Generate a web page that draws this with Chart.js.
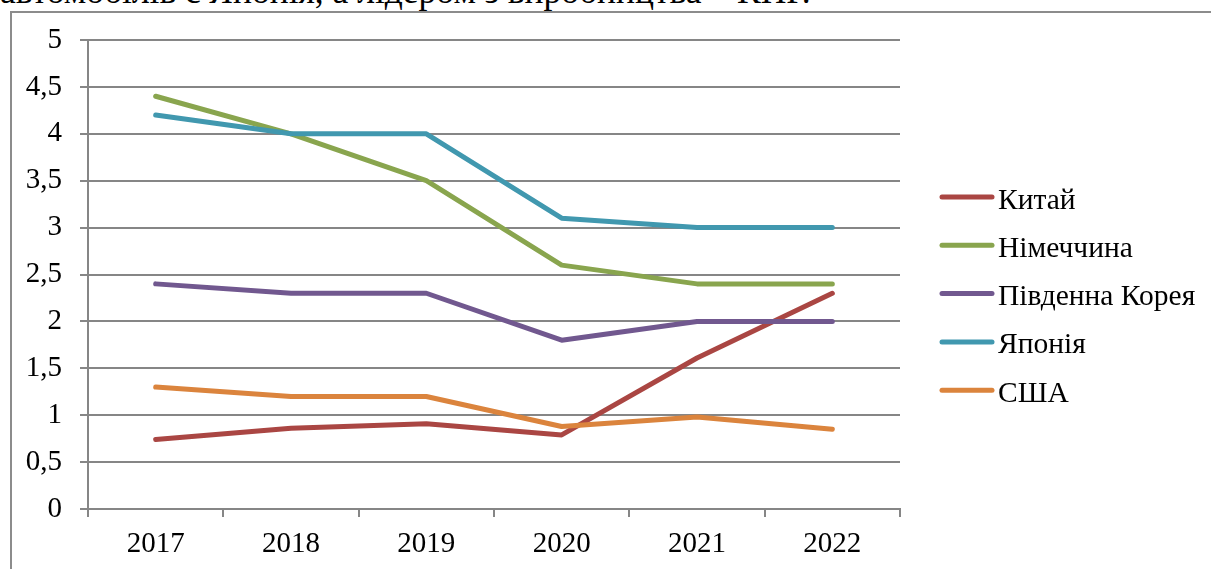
<!DOCTYPE html>
<html lang="uk">
<head>
<meta charset="utf-8">
<title>Виробництво автомобілів</title>
<script src="https://cdn.jsdelivr.net/npm/chart.js@4/dist/chart.umd.min.js"></script>
<style>
    html, body { margin: 0; padding: 0; background: #fff; overflow: hidden; }
    body { width: 1211px; height: 569px; position: relative; }
    #top-text {
        position: absolute; left: 0; top: -26px;
        font: 35.5px "Liberation Serif", "Times New Roman", serif;
        line-height: 1; white-space: nowrap; color: #000;
    }
    #frame {
        position: absolute; left: 10px; top: 11px;
        width: 1400px; height: 800px;
        border: 2px solid #8c8c8c;
    }
    #chart-box { position: absolute; left: 0; top: 0; width: 1211px; height: 569px; }
</style>
</head>
<body>
<div id="top-text">автомобілів є Японія, а лідером з виробництва – КНР.</div>
<div id="frame"></div>
<div id="chart-box"><canvas id="carChart"></canvas></div>
<script>
const years = ["2017", "2018", "2019", "2020", "2021", "2022"];
const countries = ["Китай", "Німеччина", "Південна Корея", "Японія", "США"];
const china = [0.74, 0.86, 0.91, 0.79, 1.61, 2.3];
const germany = [4.4, 4.0, 3.5, 2.6, 2.4, 2.4];
const korea = [2.4, 2.3, 2.3, 1.8, 2.0, 2.0];
const japan = [4.2, 4.0, 4.0, 3.1, 3.0, 3.0];
const usa = [1.3, 1.2, 1.2, 0.88, 0.98, 0.85];
const colors = ["#AA4643", "#89A54E", "#71588F", "#4198AF", "#DB843D"];

const FONT = "'Liberation Serif', 'Times New Roman', serif";
const GRID = "#868686";

// legend drawn by hand, Excel style: short thick line then the name
const sideLegend = {
    id: "sideLegend",
    afterDraw(chart) {
        const ctx = chart.ctx;
        ctx.save();
        ctx.font = `29.5px ${FONT}`;
        ctx.textBaseline = "alphabetic";
        ctx.textAlign = "left";
        chart.data.datasets.forEach((ds, i) => {
            const y = 197 + i * 48.3;
            ctx.strokeStyle = ds.borderColor;
            ctx.lineWidth = 5;
            ctx.lineCap = "round";
            ctx.beginPath();
            ctx.moveTo(942, y);
            ctx.lineTo(992, y);
            ctx.stroke();
            ctx.fillStyle = "#000";
            ctx.fillText(ds.label, 998, y + 11.5);
        });
        ctx.restore();
    }
};

const series = [china, germany, korea, japan, usa];
const datasets = series.map((values, i) => ({
    label: countries[i],
    data: values,
    borderColor: colors[i],
    backgroundColor: colors[i],
    borderWidth: 5,
    borderCapStyle: "round",
    borderJoinStyle: "round",
    pointRadius: 0,
    tension: 0,
    fill: false,
    order: series.length - i // later series on top, like Excel
}));

function drawChart() {
    const ctx = document.getElementById("carChart").getContext("2d");
    new Chart(ctx, {
        type: "line",
        data: { labels: years, datasets: datasets },
        plugins: [sideLegend],
        options: {
            responsive: true,
            maintainAspectRatio: false,
            animation: false,
            layout: { padding: { left: 12, top: 40, right: 311, bottom: 0 } },
            plugins: {
                legend: { display: false },
                tooltip: { enabled: false }
            },
            scales: {
                x: {
                    offset: true,
                    grid: {
                        offset: true,
                        drawOnChartArea: false,
                        drawTicks: true,
                        tickLength: 8,
                        color: GRID,
                        lineWidth: 2
                    },
                    border: { display: true, color: GRID, width: 2 },
                    ticks: {
                        color: "#000",
                        font: { family: FONT, size: 29 },
                        padding: 10,
                        maxRotation: 0
                    },
                    afterFit: (scale) => { scale.height = 60; }
                },
                y: {
                    min: 0,
                    max: 5,
                    grid: {
                        color: GRID,
                        lineWidth: 2,
                        drawTicks: true,
                        tickLength: 8
                    },
                    border: { display: true, color: GRID, width: 2 },
                    ticks: {
                        stepSize: 0.5,
                        color: "#000",
                        font: { family: FONT, size: 29 },
                        padding: 18,
                        callback: (v) => String(v).replace(".", ",")
                    },
                    afterFit: (scale) => { scale.width = 76; }
                }
            }
        }
    });
}

// canvas text needs the serif font loaded first
document.fonts.load("29px 'Liberation Serif'", "Китай 2017").then(drawChart, drawChart);
</script>
</body>
</html>
